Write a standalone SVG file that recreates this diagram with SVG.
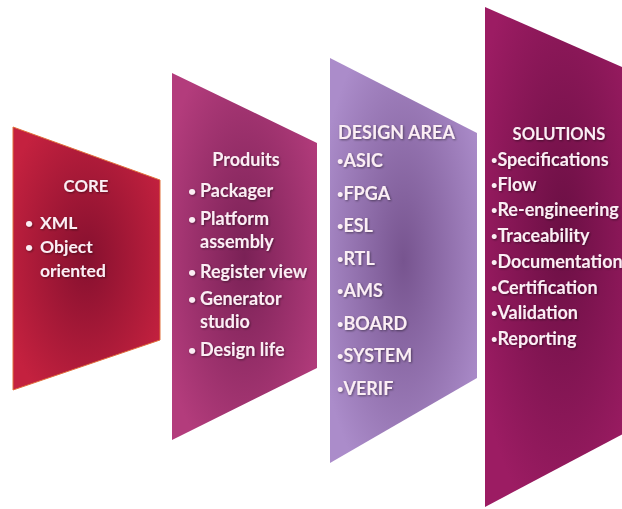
<svg xmlns="http://www.w3.org/2000/svg" width="622" height="509" viewBox="0 0 622 509">
<defs>
<radialGradient id="gCore" cx="0.5" cy="0.5" r="0.6">
<stop offset="0" stop-color="#86102f"/><stop offset="1" stop-color="#c4213f"/>
</radialGradient>
<radialGradient id="gProd" cx="0.5" cy="0.5" r="0.6">
<stop offset="0" stop-color="#7a2156"/><stop offset="1" stop-color="#b33c7c"/>
</radialGradient>
<radialGradient id="gDes" cx="0.5" cy="0.5" r="0.6">
<stop offset="0" stop-color="#77548f"/><stop offset="1" stop-color="#ab8cca"/>
</radialGradient>
<radialGradient id="gSol" cx="0.5" cy="0.45" r="0.6">
<stop offset="0" stop-color="#6b0f44"/><stop offset="1" stop-color="#9c1c63"/>
</radialGradient>
<filter id="sh" x="-10%" y="-10%" width="130%" height="130%">
<feDropShadow dx="1" dy="1" stdDeviation="0.8" flood-color="#000" flood-opacity="0.45"/>
</filter>
</defs>
<style>
text{font-family:Lato,"Open Sans","Liberation Sans",sans-serif;font-weight:bold;fill:#fbeef4;font-size:18px}
.t{filter:url(#sh)}
.c{text-anchor:middle}
.k text{font-size:17.5px}
.b{font-size:11px}
.p{font-size:14px}
</style>
<rect width="622" height="509" fill="#ffffff"/>
<g id="core">
<polygon points="13,127 160,180 160,340 13,390" fill="url(#gCore)" stroke="#e2703c" stroke-width="1"/>
<g class="t k">
<text class="c" x="86" y="192" style="font-size:16.8px">CORE</text>
<text x="25" y="229"><tspan class="p" dy="-1">•</tspan><tspan x="40" dy="1">XML</tspan></text>
<text x="25" y="253"><tspan class="p" dy="-1">•</tspan><tspan x="40" dy="1">Object</tspan></text>
<text x="40" y="277">oriented</text>
</g>
</g>
<g id="produits">
<polygon points="172,73 317,143 317,368 172,440" fill="url(#gProd)"/>
<g class="t">
<text class="c" x="246" y="166">Produits</text>
<text x="188" y="197"><tspan class="p" dy="-1">•</tspan><tspan x="200" dy="1">Packager</tspan></text>
<text x="188" y="225"><tspan class="p" dy="-1">•</tspan><tspan x="200" dy="1">Platform</tspan></text>
<text x="200" y="248">assembly</text>
<text x="188" y="278"><tspan class="p" dy="-1">•</tspan><tspan x="200" dy="1">Register view</tspan></text>
<text x="188" y="305"><tspan class="p" dy="-1">•</tspan><tspan x="200" dy="1">Generator</tspan></text>
<text x="200" y="328">studio</text>
<text x="188" y="356"><tspan class="p" dy="-1">•</tspan><tspan x="200" dy="1">Design life</tspan></text>
</g>
</g>
<g id="design-area">
<polygon points="330,58 477,133 477,378 330,463" fill="url(#gDes)"/>
<g class="t">
<text x="338" y="139">DESIGN AREA</text>
<text x="337" y="167"><tspan class="b" dy="-2">•</tspan><tspan dy="2">ASIC</tspan></text>
<text x="337" y="199.5"><tspan class="b" dy="-2">•</tspan><tspan dy="2">FPGA</tspan></text>
<text x="337" y="232"><tspan class="b" dy="-2">•</tspan><tspan dy="2">ESL</tspan></text>
<text x="337" y="264.5"><tspan class="b" dy="-2">•</tspan><tspan dy="2">RTL</tspan></text>
<text x="337" y="297"><tspan class="b" dy="-2">•</tspan><tspan dy="2">AMS</tspan></text>
<text x="337" y="329.5"><tspan class="b" dy="-2">•</tspan><tspan dy="2">BOARD</tspan></text>
<text x="337" y="362"><tspan class="b" dy="-2">•</tspan><tspan dy="2">SYSTEM</tspan></text>
<text x="337" y="394.5"><tspan class="b" dy="-2">•</tspan><tspan dy="2">VERIF</tspan></text>
</g>
</g>
<g id="solutions">
<polygon points="485,7 640,75 640,425 485,507" fill="url(#gSol)"/>
<g class="t">
<text class="c" x="559" y="140" style="font-size:16.5px">SOLUTIONS</text>
<text x="491" y="166"><tspan class="b" dy="-2">•</tspan><tspan dy="2">Specifications</tspan></text>
<text x="491" y="191"><tspan class="b" dy="-2">•</tspan><tspan dy="2">Flow</tspan></text>
<text x="491" y="216"><tspan class="b" dy="-2">•</tspan><tspan dy="2">Re-engineering</tspan></text>
<text x="491" y="242"><tspan class="b" dy="-2">•</tspan><tspan dy="2">Traceability</tspan></text>
<text x="491" y="268"><tspan class="b" dy="-2">•</tspan><tspan dy="2">Documentation</tspan></text>
<text x="491" y="294"><tspan class="b" dy="-2">•</tspan><tspan dy="2">Certification</tspan></text>
<text x="491" y="319"><tspan class="b" dy="-2">•</tspan><tspan dy="2">Validation</tspan></text>
<text x="491" y="345"><tspan class="b" dy="-2">•</tspan><tspan dy="2">Reporting</tspan></text>
</g>
</g>
<g id="connectors"/>
</svg>
